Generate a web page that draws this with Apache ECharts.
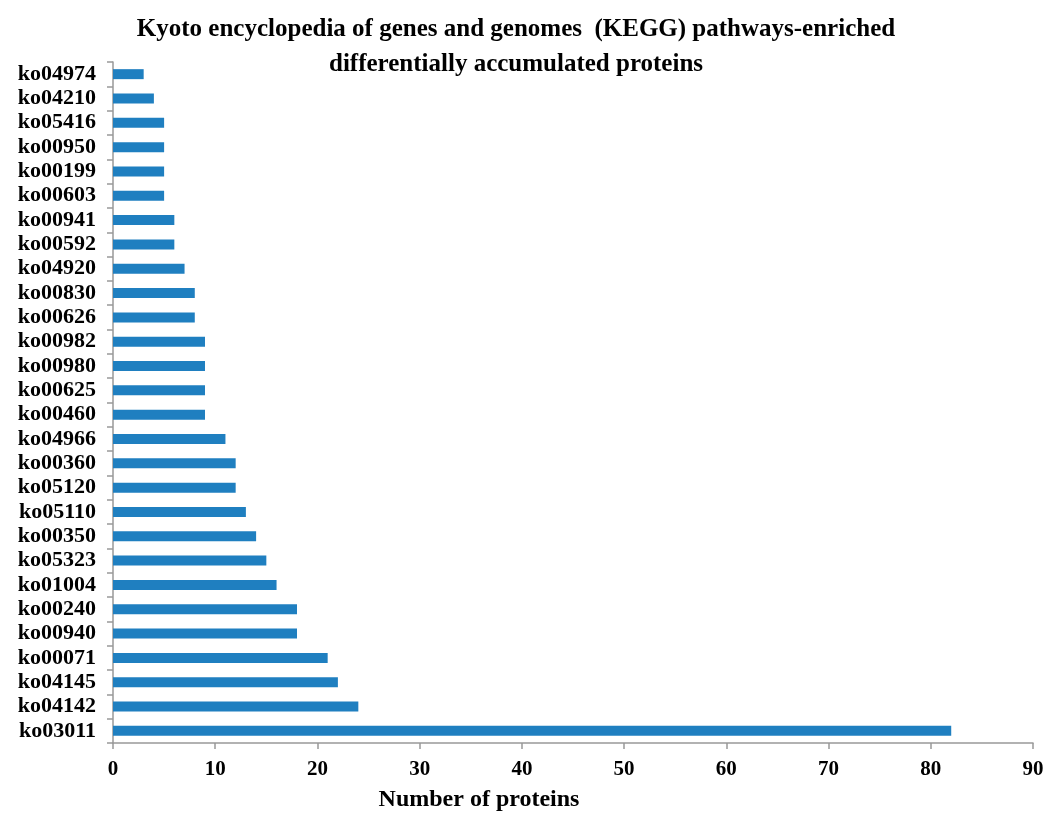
<!DOCTYPE html>
<html>
<head>
<meta charset="utf-8">
<script src="https://cdn.jsdelivr.net/npm/echarts@6/dist/echarts.min.js"></script>
<style>html,body{margin:0;padding:0;background:#fff}#chart{width:1047px;height:813px}</style>
</head>
<body>
<div id="chart"></div>
<script>
const categories = ["ko03011","ko04142","ko04145","ko00071","ko00940","ko00240","ko01004","ko05323","ko00350","ko05110","ko05120","ko00360","ko04966","ko00460","ko00625","ko00980","ko00982","ko00626","ko00830","ko04920","ko00592","ko00941","ko00603","ko00199","ko00950","ko05416","ko04210","ko04974"];
const proteinCounts = [82,24,22,21,18,18,16,15,14,13,12,12,11,9,9,9,9,8,8,7,6,6,5,5,5,5,4,3];
const xTicks = [0,10,20,30,40,50,60,70,80,90];

const chart = echarts.init(document.getElementById('chart'));
const serif = '"Liberation Serif", "Times New Roman", serif';
chart.setOption({
  animation: false,
  title: {
    text: 'Kyoto encyclopedia of genes and genomes  (KEGG) pathways-enriched\ndifferentially accumulated proteins',
    left: 511, top: 7, textAlign: 'center',
    textStyle: { fontFamily: serif, fontWeight: 'bold', fontSize: 25, color: '#000', lineHeight: 35 }
  },
  grid: { left: 113, right: 14, top: 62, bottom: 70, outerBoundsMode: 'none' },
  xAxis: {
    type: 'value', min: xTicks[0], max: xTicks[xTicks.length-1], interval: 10,
    name: 'Number of proteins', nameLocation: 'middle', nameGap: 45,
    nameTextStyle: { fontFamily: serif, fontWeight: 'bold', fontSize: 24, color: '#000', padding: [0, 188, 0, 0] },
    axisLine: { show: true, lineStyle: { color: '#999', width: 1.5 } },
    axisTick: { show: true, length: 6, lineStyle: { color: '#999', width: 1.5 } },
    axisLabel: { fontFamily: serif, fontWeight: 'bold', fontSize: 21, color: '#000', margin: 16 },
    splitLine: { show: false }
  },
  yAxis: {
    type: 'category', data: categories,
    axisLine: { show: true, lineStyle: { color: '#999', width: 1.5 } },
    axisTick: { show: true, length: 6, lineStyle: { color: '#999', width: 1.5 } },
    axisLabel: { interval: 0, fontFamily: serif, fontWeight: 'bold', fontSize: 22, color: '#000', margin: 17 }
  },
  series: [{
    type: 'bar', data: proteinCounts, barWidth: 10,
    itemStyle: { color: '#1f7fc0' }
  }]
});
</script>
</body>
</html>
